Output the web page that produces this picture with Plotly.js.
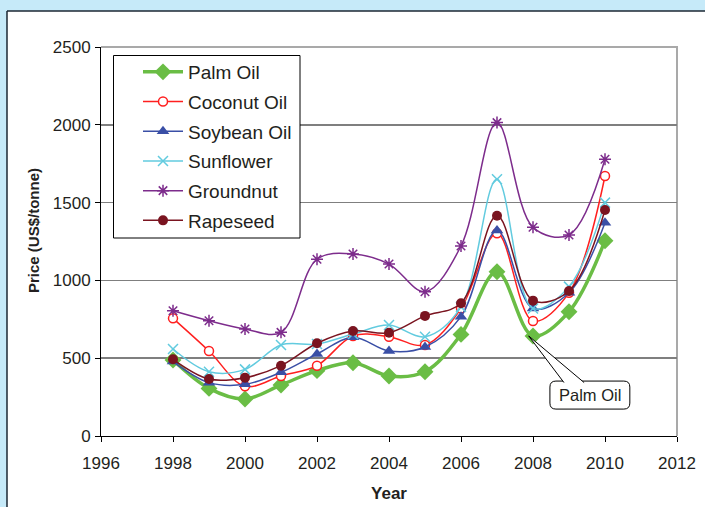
<!DOCTYPE html>
<html>
<head>
<meta charset="utf-8">
<script src="https://cdn.plot.ly/plotly-3.0.1.min.js"></script>
<style>
  html, body { margin: 0; padding: 0; background: #c6eaf9; }
  #chart { width: 705px; height: 507px; }
</style>
</head>
<body>
<div id="chart"></div>
<script>
// Vegetable oil prices, US$/tonne
const years = [1998, 1999, 2000, 2001, 2002, 2003, 2004, 2005, 2006, 2007, 2008, 2009, 2010];

const palmOil    = [488, 306, 238, 328, 420, 471, 386, 413, 653, 1056, 643, 799, 1255];
const coconutOil = [756, 546, 320, 386, 452, 643, 638, 585, 820, 1303, 739, 921, 1671];
const soybeanOil = [478, 343, 332, 409, 527, 634, 546, 572, 767, 1320, 820, 921, 1371];
const sunflower  = [559, 413, 428, 585, 591, 655, 713, 638, 830, 1650, 820, 960, 1500];
const groundnut  = [805, 741, 688, 666, 1136, 1170, 1105, 927, 1221, 2014, 1341, 1292, 1778];
const rapeseed   = [493, 366, 375, 452, 596, 675, 664, 772, 853, 1416, 870, 932, 1452];

const seriesNames = ['Palm Oil', 'Coconut Oil', 'Soybean Oil', 'Sunflower', 'Groundnut', 'Rapeseed'];

const xTicks = [1996, 1998, 2000, 2002, 2004, 2006, 2008, 2010, 2012];
const yTicks = [0, 500, 1000, 1500, 2000, 2500];

const xTitle = 'Year';
const yTitle = 'Price (US$/tonne)';
const calloutText = 'Palm Oil';
const calloutYear = 2008;

const FONT = 'Liberation Sans, Arial, sans-serif';

function series(name, y, lineColor, lineWidth, marker) {
  return {
    type: 'scatter',
    mode: 'lines+markers',
    name: name,
    legendgroup: name,
    x: years,
    y: y,
    line: { color: lineColor, width: lineWidth, shape: 'spline', smoothing: 1 },
    marker: marker,
    hoverinfo: 'x+y+name'
  };
}

const traces = [
  series(seriesNames[0], palmOil, '#6abd45', 3.5,
    { symbol: 'diamond', size: 13, color: '#6abd45', line: { width: 0 } }),
  series(seriesNames[1], coconutOil, '#ff1f1f', 1.5,
    { symbol: 'circle', size: 9, color: '#ffffff', line: { color: '#ff1f1f', width: 1.5 } }),
  series(seriesNames[2], soybeanOil, '#3a4fa6', 1.5,
    { symbol: 'triangle-up', size: 11, color: '#3a4fa6', line: { width: 0 } }),
  series(seriesNames[3], sunflower, '#62cbdf', 1.5,
    { symbol: 'x-thin-open', size: 10, color: '#62cbdf', line: { color: '#62cbdf', width: 1.5 } }),
  series(seriesNames[4], groundnut, '#7d2c8c', 1.5,
    { symbol: 'asterisk-open', size: 10, color: '#7d2c8c', line: { color: '#7d2c8c', width: 1.5 } }),
  series(seriesNames[5], rapeseed, '#7a1420', 1.5,
    { symbol: 'circle', size: 10, color: '#7a1420', line: { width: 0 } })
];

// Callout geometry (data units: 36 px per year, 6.427 US$ per px)
const pxX = 1 / 36;
const pxY = 2500 / 389;
const boxX0 = 2008.47, boxX1 = 2010.69;
const boxY0 = 173, boxY1 = 353;
const r = 6;
const rx = r * pxX, ry = r * pxY;
const roundRect =
  `M ${boxX0 + rx},${boxY1} L ${boxX1 - rx},${boxY1} Q ${boxX1},${boxY1} ${boxX1},${boxY1 - ry} ` +
  `L ${boxX1},${boxY0 + ry} Q ${boxX1},${boxY0} ${boxX1 - rx},${boxY0} ` +
  `L ${boxX0 + rx},${boxY0} Q ${boxX0},${boxY0} ${boxX0},${boxY0 + ry} ` +
  `L ${boxX0},${boxY1 - ry} Q ${boxX0},${boxY1} ${boxX0 + rx},${boxY1} Z`;
const tipY = palmOil[years.indexOf(calloutYear)];
const wedge =
  `M 2008.86,${boxY1 - 1.5 * pxY} L ${calloutYear - 0.12},${tipY} L 2009.42,${boxY1 - 1.5 * pxY}`;

// Pixel -> plot-paper units (plot area: x 101..677 px, y 47..436 px)
const px2paperX = (p) => (p - 101) / 576;
const px2paperY = (p) => (436 - p) / 389;

const layout = {
  width: 705,
  height: 507,
  margin: { l: 101, r: 28, t: 47, b: 71 },
  paper_bgcolor: '#c6eaf9',
  plot_bgcolor: 'rgba(0,0,0,0)',
  font: { family: FONT, size: 17, color: '#231f20' },
  showlegend: true,
  legend: {
    x: px2paperX(138), y: px2paperY(53), xanchor: 'left', yanchor: 'top',
    bgcolor: 'rgba(0,0,0,0)', borderwidth: 0,
    font: { family: FONT, size: 19, color: '#231f20' },
    traceorder: 'grouped', tracegroupgap: 2, itemwidth: 40
  },
  xaxis: {
    range: [1996, 2012],
    tickvals: xTicks,
    ticktext: xTicks.map(String),
    ticks: 'outside', ticklen: 5, tickcolor: '#000000', tickwidth: 1,
    ticklabelstandoff: 7,
    showline: true, linecolor: '#000000', linewidth: 1,
    showgrid: false, zeroline: false,
    tickfont: { family: FONT, size: 17, color: '#231f20' },
    title: { text: xTitle, font: { family: FONT, size: 17, color: '#231f20', weight: 'bold' }, standoff: 14 },
    fixedrange: true
  },
  yaxis: {
    range: [0, 2500],
    tickvals: yTicks,
    ticktext: yTicks.map(String),
    ticks: 'outside', ticklen: 5, tickcolor: '#000000', tickwidth: 1,
    ticklabelstandoff: 1,
    showline: true, linecolor: '#000000', linewidth: 1,
    showgrid: true, gridcolor: '#7f7f7f', gridwidth: 1.5,
    zeroline: false,
    tickfont: { family: FONT, size: 17, color: '#231f20' },
    fixedrange: true
  },
  shapes: [
    // white panel
    { type: 'rect', xref: 'paper', yref: 'paper', x0: -0.1632, x1: 1.2, y0: -0.3, y1: 1.0925,
      fillcolor: '#ffffff', line: { width: 0 }, layer: 'below' },
    { type: 'line', xref: 'paper', yref: 'paper', x0: -0.1632, x1: 1.2, y0: 1.0925, y1: 1.0925,
      line: { color: '#1b2733', width: 1.5 }, layer: 'below' },
    { type: 'line', xref: 'paper', yref: 'paper', x0: -0.1632, x1: -0.1632, y0: -0.3, y1: 1.0925,
      line: { color: '#1b2733', width: 1.5 }, layer: 'below' },
    // plot frame, top and right
    { type: 'path', xref: 'paper', yref: 'paper', path: 'M 0,1 L 1,1 L 1,0',
      line: { color: '#a9a9a9', width: 2 }, layer: 'below' },
    // legend frame
    { type: 'rect', xref: 'paper', yref: 'paper',
      x0: px2paperX(113.5), x1: px2paperX(300), y0: px2paperY(238), y1: px2paperY(55.5),
      fillcolor: '#ffffff', line: { color: '#000000', width: 1 }, layer: 'above' },
    // callout box and pointer
    { type: 'path', xref: 'x', yref: 'y', path: roundRect,
      fillcolor: '#ffffff', line: { color: '#000000', width: 1 }, layer: 'above' },
    { type: 'path', xref: 'x', yref: 'y', path: wedge,
      fillcolor: '#ffffff', line: { color: '#000000', width: 1 }, layer: 'above' }
  ],
  annotations: [
    // y-axis title
    { x: px2paperX(33), y: px2paperY(231), xref: 'paper', yref: 'paper',
      text: yTitle, textangle: -90, showarrow: false,
      xanchor: 'center', yanchor: 'middle',
      font: { family: FONT, size: 15, color: '#231f20', weight: 'bold' } },
    // callout label
    { x: (boxX0 + boxX1) / 2, y: (boxY0 + boxY1) / 2, xref: 'x', yref: 'y',
      text: calloutText, showarrow: false,
      font: { family: FONT, size: 16.5, color: '#231f20' } }
  ]
};

Plotly.newPlot('chart', traces, layout, { displayModeBar: false, staticPlot: true });
</script>
</body>
</html>
